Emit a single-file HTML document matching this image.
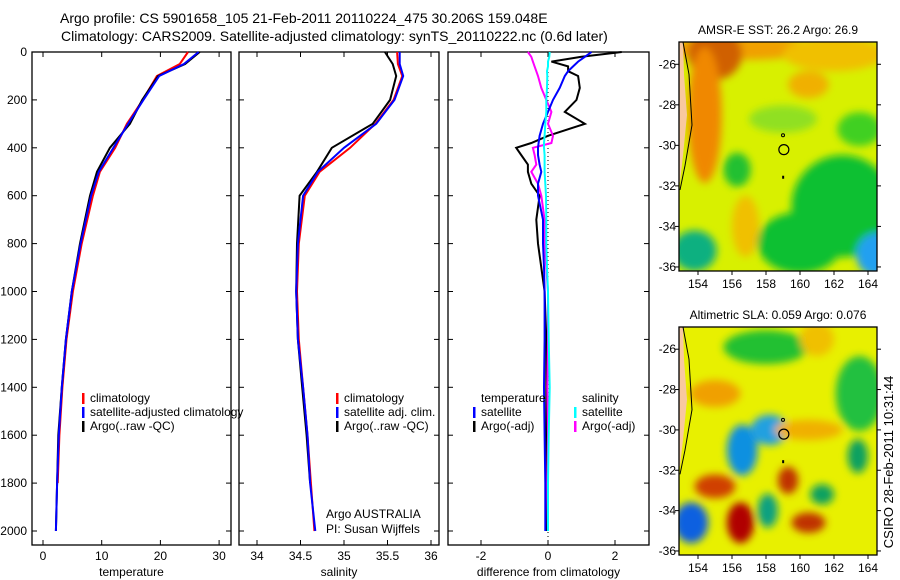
<!DOCTYPE html>
<html><head><meta charset="utf-8">
<style>
html,body{margin:0;padding:0;background:#fff;}
svg{display:block;font-family:"Liberation Sans",Arial,sans-serif;}
</style></head>
<body>
<svg id="fig" width="900" height="580" viewBox="0 0 900 580" xmlns="http://www.w3.org/2000/svg">
<defs>
<filter id="blur1" x="-20%" y="-20%" width="140%" height="140%"><feGaussianBlur stdDeviation="4"/></filter>
<clipPath id="clipMap1"><rect x="679" y="42" width="198" height="229"/></clipPath>
<clipPath id="clipMap2"><rect x="679" y="327" width="198" height="228"/></clipPath>
</defs>
<text x="60" y="23" font-size="14">Argo profile: CS 5901658_105 21-Feb-2011 20110224_475 30.206S 159.048E</text>
<text x="61" y="41" font-size="14">Climatology: CARS2009. Satellite-adjusted climatology: synTS_20110222.nc (0.6d later)</text>
<g id="maps"></g>
<g id="panels"></g>
<text transform="translate(893,462) rotate(-90)" text-anchor="middle" font-size="13">CSIRO 28-Feb-2011 10:31:44</text>
</svg>
<script>
// ---- data ----
const depths = [0, 50, 100, 200, 300, 400, 500, 600, 800, 1000, 1200, 1400, 1600, 1800, 2000];
const tempClim = [24.7, 23.3, 19.4, 17.0, 14.3, 12.3, 9.7, 8.5, 6.6, 5.1, 4.0, 3.3, 2.8, 2.5, null];
const tempSat = [26.5, 24.0, 19.8, 17.1, 14.5, 12.0, 9.5, 8.2, 6.4, 4.9, 3.9, 3.2, 2.7, 2.4, 2.2];
const tempArgo = [26.7, 24.2, 19.6, 16.9, 14.8, 11.4, 9.2, 8.0, 6.3, 4.9, 3.9, 3.2, 2.6, 2.4, 2.2];
const salClim = [35.61, 35.62, 35.67, 35.57, 35.36, 35.07, 34.72, 34.55, 34.48, 34.46, 34.48, 34.53, 34.58, 34.62, 34.66];
const salSat = [35.64, 35.64, 35.68, 35.58, 35.37, 35.00, 34.70, 34.53, 34.47, 34.45, 34.47, 34.53, 34.58, 34.61, 34.67];
const salArgo = [35.47, 35.56, 35.60, 35.53, 35.33, 34.86, 34.69, 34.49, 34.46, 34.45, 34.47, 34.52, 34.57, 34.61, null];
const diffDepths = [0, 20, 40, 60, 80, 100, 150, 200, 250, 300, 350, 380, 400, 430, 470, 500, 550, 600, 700, 800, 900, 1000, 1200, 1400, 1600, 1800, 2000];
const diffTempArgo = [2.2, 1.0, 0.1, 0.6, 0.6, 0.9, 0.95, 0.85, 0.5, 1.1, 0.0, -0.5, -0.95, -0.8, -0.6, -0.6, -0.5, -0.25, -0.35, -0.3, -0.2, -0.1, -0.05, -0.05, -0.05, -0.05, -0.05];
const diffTempSat = [1.3, 1.1, 0.9, 0.75, 0.6, 0.5, 0.35, 0.15, 0.0, -0.15, -0.25, -0.28, -0.3, -0.3, -0.25, -0.2, -0.3, -0.3, -0.15, -0.15, -0.12, -0.1, -0.1, -0.12, -0.1, -0.08, -0.08];
const diffSalArgo = [-0.6, -0.5, -0.45, -0.4, -0.35, -0.3, -0.2, -0.05, 0.1, 0.0, 0.15, 0.1, -0.45, -0.4, -0.35, -0.5, -0.3, -0.2, -0.1, -0.1, -0.05, 0.0, 0.0, -0.02, 0.0, -0.02, 0.0];
const diffSalSat = [0.05, 0.04, 0.0, 0.0, -0.03, -0.02, -0.03, -0.05, -0.05, -0.08, -0.1, -0.12, -0.12, -0.1, -0.1, -0.1, -0.08, -0.06, -0.05, -0.05, -0.03, 0.0, 0.02, 0.05, 0.02, 0.0, 0.0];
const depthTicks = [0, 200, 400, 600, 800, 1000, 1200, 1400, 1600, 1800, 2000];
const tempTicks = [0, 10, 20, 30];
const salTicks = [34, 34.5, 35, 35.5, 36];
const diffTicks = [-2, 0, 2];
const latTicks = [-26, -28, -30, -32, -34, -36];
const lonTicks = [154, 156, 158, 160, 162, 164];

const NS = "http://www.w3.org/2000/svg";
function mk(tag, attrs, parent){const e=document.createElementNS(NS,tag);for(const k in attrs)e.setAttribute(k,attrs[k]);parent.appendChild(e);return e;}
const panels = document.getElementById('panels');
const TOP=52, BOT=545;
const yD = d => TOP + d*0.2395;

function panel(name, x0, x1, xs, ticks, label, fmt){
  const g = mk('g',{},panels);
  
  
  const fr = mk('rect',{x:x0,y:TOP,width:x1-x0,height:BOT-TOP,fill:'none',stroke:'#000','stroke-width':1.3},g);
  
  
  depthTicks.forEach(d=>{
    mk('line',{x1:x0,x2:x0+5,y1:yD(d),y2:yD(d),stroke:'#000'},g);
    mk('line',{x1:x1-5,x2:x1,y1:yD(d),y2:yD(d),stroke:'#000'},g);
  });
  ticks.forEach(t=>{
    const x=xs(t);
    mk('line',{x1:x,x2:x,y1:TOP,y2:TOP+5,stroke:'#000'},g);
    mk('line',{x1:x,x2:x,y1:BOT-5,y2:BOT,stroke:'#000'},g);
    const tl=mk('text',{x:x,y:560,'text-anchor':'middle','font-size':12},g);
    tl.textContent=fmt(t);
    
    
  });
  const al=mk('text',{x:(x0+x1)/2,y:576,'text-anchor':'middle','font-size':12},g);
  al.textContent=label;
  
  
  return g;
}
function line(g, xs, vals, ds, color, w, name){
  let pts=[];
  vals.forEach((v,i)=>{ if(v!==null) pts.push(xs(v).toFixed(1)+','+yD(ds[i]).toFixed(1)); });
  const p=mk('polyline',{points:pts.join(' '),fill:'none',stroke:color,'stroke-width':w},g);
  
  
}
function legend(g, x, y, color, text){
  if(color) mk('rect',{x:x,y:y-9,width:2.5,height:11,fill:color},g);
  const t=mk('text',{x:x+8,y:y,'font-size':12},g);
  t.textContent=text;
  
  
}

// panel 1 temperature
const xT = v => 43 + v*5.87;
const g1 = panel('temperature-panel', 32, 231, xT, tempTicks, 'temperature', t=>String(t));
depthTicks.forEach(d=>{
  const t=mk('text',{x:27,y:yD(d)+4,'text-anchor':'end','font-size':12},g1);
  t.textContent=d;
  
  
});
line(g1,xT,tempClim,depths,'#f00',2,'temp-climatology-line');
line(g1,xT,tempArgo,depths,'#000',2,'temp-argo-line');
line(g1,xT,tempSat,depths,'#00f',2,'temp-satellite-line');
legend(g1,82,402,'#f00','climatology');
legend(g1,82,416,'#00f','satellite-adjusted climatology');
legend(g1,82,430,'#000','Argo(..raw -QC)');

// panel 2 salinity
const xS = v => 257 + (v-34)*87;
const g2 = panel('salinity-panel', 239, 439, xS, salTicks, 'salinity', t=>String(t));
line(g2,xS,salClim,depths,'#f00',2,'sal-climatology-line');
line(g2,xS,salArgo,depths,'#000',2,'sal-argo-line');
line(g2,xS,salSat,depths,'#00f',2,'sal-satellite-line');
legend(g2,336,402,'#f00','climatology');
legend(g2,336,416,'#00f','satellite adj. clim.');
legend(g2,336,430,'#000','Argo(..raw -QC)');
[['Argo AUSTRALIA',518],['PI: Susan Wijffels',533]].forEach(([s,y])=>{
  const t=mk('text',{x:326,y:y,'font-size':12},g2); t.textContent=s;
  
  
});

// panel 3 difference
const xDf = v => 548 + v*33.5;
const g3 = panel('difference-panel', 448, 649, xDf, diffTicks, 'difference from climatology', t=>String(t));
mk('line',{x1:xDf(0),x2:xDf(0),y1:TOP,y2:BOT,stroke:'#000','stroke-dasharray':'1,3'},g3);
line(g3,xDf,diffTempArgo,diffDepths,'#000',2,'diff-temp-argo-line');
line(g3,xDf,diffSalArgo,diffDepths,'#f0f',2,'diff-sal-argo-line');
line(g3,xDf,diffTempSat,diffDepths,'#00f',2,'diff-temp-satellite-line');
line(g3,xDf,diffSalSat,diffDepths,'#0ff',2,'diff-sal-satellite-line');
legend(g3,473,402,null,'temperature');
legend(g3,473,416,'#00f','satellite');
legend(g3,473,430,'#000','Argo(-adj)');
legend(g3,574,402,null,'salinity');
legend(g3,574,416,'#0ff','satellite');
legend(g3,574,430,'#f0f','Argo(-adj)');

// ---- maps ----
const maps=document.getElementById('maps');
function map(name, y0, y1, title, base, blobs, clip){
  const g=mk('g',{},maps);
  
  
  const x0=679,x1=877;
  const lonX = l => 698 + (l-154)*17;
  const latY = l => y0 + (y1-y0)*((-l)-24.9)/(36.2-24.9);
  const img=mk('g',{'clip-path':'url(#'+clip+')'},g);
  mk('rect',{x:x0,y:y0,width:x1-x0,height:y1-y0,fill:base},img);
  const bg=mk('g',{filter:'url(#blur1)'},img);
  blobs.forEach(b=>mk('ellipse',{cx:lonX(b[0]),cy:latY(b[1]),rx:b[2]*17,ry:b[3]*17,fill:b[4]},bg));
  // land
  mk('path',{d:`M${x0},${y0} L${x0+4},${y0} L${x0+5},${latY(-26.5)} L${x0+8},${latY(-28.5)} L${x0+4},${latY(-30.5)} L${x0+1},${latY(-31.8)} L${x0},${latY(-31.8)} Z`,fill:'#f8c8a0',stroke:'none'},img);
  mk('path',{d:`M${x0+4},${y0} L${x0+10},${latY(-26.5)} L${x0+13},${latY(-29)} L${x0+6},${latY(-31)} L${x0+1},${latY(-32.2)}`,fill:'none',stroke:'#000','stroke-width':1},img);
  const fr=mk('rect',{x:x0,y:y0,width:x1-x0,height:y1-y0,fill:'none',stroke:'#000','stroke-width':1.3},g);
  
  
  mk('circle',{cx:lonX(159.05),cy:latY(-30.21),r:5,fill:'none',stroke:'#000','stroke-width':1.2},g);
  mk('circle',{cx:lonX(159.0),cy:latY(-29.5),r:1.5,fill:'none',stroke:'#000'},g);
  mk('rect',{x:lonX(158.95),y:latY(-31.5),width:2,height:3,fill:'#000'},g);
  latTicks.forEach(l=>{
    const y=latY(l);
    mk('line',{x1:x0-4,x2:x0,y1:y,y2:y,stroke:'#000'},g);
    mk('line',{x1:x1,x2:x1+4,y1:y,y2:y,stroke:'#000'},g);
    const t=mk('text',{x:x0-3,y:y+4,'text-anchor':'end','font-size':12},g); t.textContent=l;
    
    
  });
  lonTicks.forEach(l=>{
    const x=lonX(l);
    mk('line',{x1:x,x2:x,y1:y1,y2:y1+4,stroke:'#000'},g);
    const t=mk('text',{x:x,y:y1+17,'text-anchor':'middle','font-size':12},g); t.textContent=l;
    
    
  });
  const tt=mk('text',{x:(x0+x1)/2,y:y0-8,'text-anchor':'middle','font-size':12},g);
  tt.textContent=title;
  
  
}
map('sst-map',42,271,'AMSR-E SST: 26.2 Argo: 26.9','#d8f000',[
  [156.5,-25.2,4.5,0.7,'#f0a000'],[155,-25.5,1.6,1.5,'#d06000'],[154.4,-28.5,1.0,4,'#f08800'],[162,-25.5,3,1,'#f0c000'],
  [160.5,-27,1.2,0.8,'#f0b000'],
  [163.5,-29.2,1.3,1,'#40d020'],[162.5,-33,3,3,'#10c030'],[160,-34.8,2.5,1.8,'#10c030'],[164.6,-35.4,1.3,1.3,'#20a0f0'],[153.8,-35.2,1.3,1.2,'#10b080'],
  [156.3,-31.2,0.8,1,'#20c030'],[156.8,-34,0.8,1.8,'#f0c000'],[159,-28.7,2,0.8,'#90e020']],'clipMap1');
map('sla-map',327,555,'Altimetric SLA: 0.059 Argo: 0.076','#e8f000',[
  [158,-25.9,2.5,1,'#20c030'],[163.5,-28.2,1.4,2.2,'#20c040'],[156.6,-31,0.9,1.5,'#1090e0'],[158.2,-30,1.1,0.9,'#20a0e0'],
  [156.5,-34.6,0.8,1.2,'#b00000'],[155,-32.8,1.2,0.7,'#d04000'],[159.3,-32.5,0.6,0.8,'#c03000'],[160.5,-34.6,1,0.6,'#c03000'],
  [158.1,-34,0.6,1,'#10a080'],[161.3,-33.2,0.7,0.6,'#10a060'],[163.4,-31.3,0.6,1,'#10a060'],[153.6,-34.6,1,1.2,'#1060e0'],
  [155,-28.2,1.5,0.8,'#f0a000'],[160.5,-30,2,0.6,'#f0b000'],[161,-25.5,1,1,'#f0c000']],'clipMap2');
</script>
</body></html>
